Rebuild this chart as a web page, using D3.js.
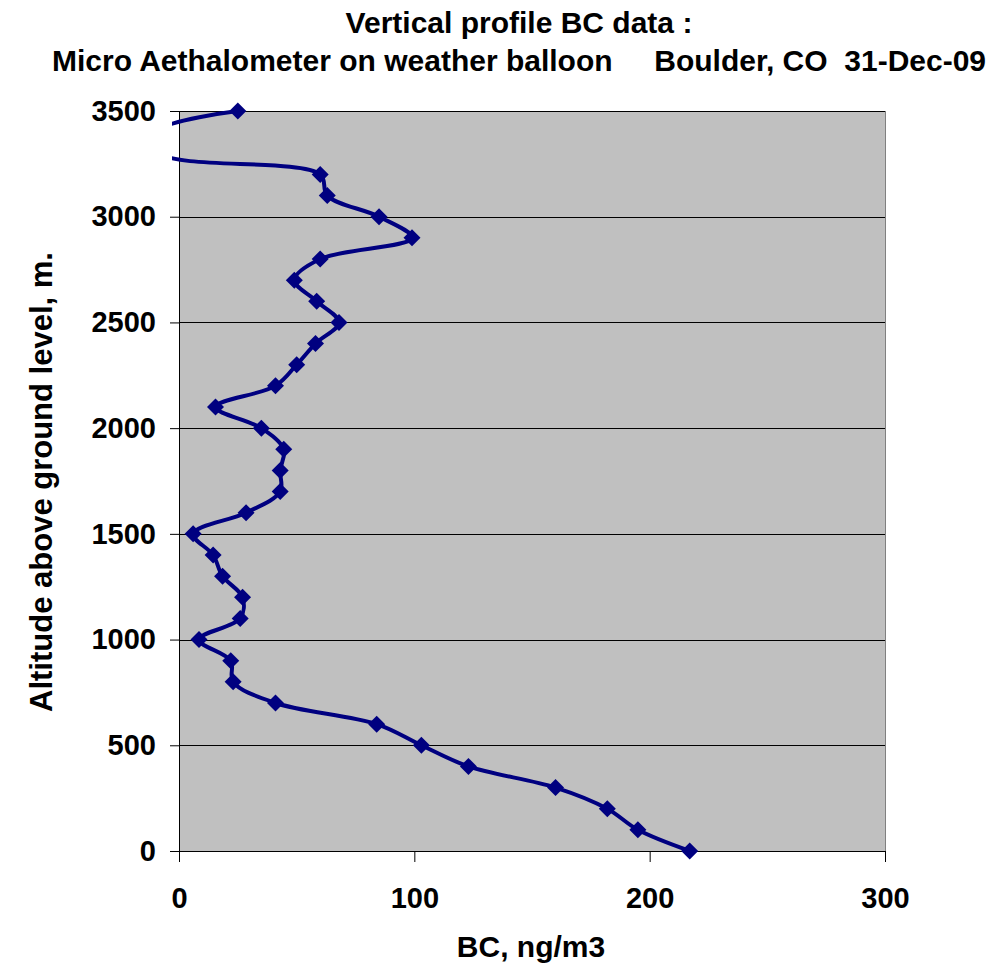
<!DOCTYPE html>
<html>
<head>
<meta charset="utf-8">
<script src="https://cdn.jsdelivr.net/npm/d3@7"></script>
<style>
body { margin: 0; background: #fff; }
text { font-family: "Liberation Sans", Arial, sans-serif; font-weight: bold; fill: #000; }
</style>
</head>
<body>
<svg id="chart" width="999" height="969"></svg>
<script>
// altitude above ground (m) and BC (ng/m3)
var altitude = [0, 100, 200, 300, 400, 500, 600, 700, 800, 900, 1000, 1100, 1200, 1300, 1400, 1500,
  1600, 1700, 1800, 1900, 2000, 2100, 2200, 2300, 2400, 2500, 2600, 2700, 2800, 2900, 3000,
  3100, 3200, 3300, 3400, 3500]
var bc = [217, 195, 182, 160, 123, 103, 84, 41, 23, 22, 8.5, 26, 27, 18.5, 14.5, 6,
  28.5, 43, 43, 44.5, 35, 15.5, 41, 50, 58, 68, 58.5, 49, 60, 99, 85,
  63, 60, -8, -10, 25]
var xTicks = [0, 100, 200, 300]
var yTicks = [0, 500, 1000, 1500, 2000, 2500, 3000, 3500]

var svg = d3.select('#chart')
var pL = 179, pR = 885, pT = 111, pB = 851

var x = d3.scaleLinear().domain([0, 300]).range([pL, pR])
var y = d3.scaleLinear().domain([0, 3500]).range([pB, pT])

svg.append('rect')
  .attr('x', pL).attr('y', pT)
  .attr('width', pR - pL).attr('height', pB - pT)
  .attr('fill', '#c0c0c0')

// grid
svg.append('g').selectAll('line')
  .data(yTicks.slice(1))
  .enter().append('line')
  .attr('x1', pL).attr('x2', pR)
  .attr('y1', function (d) { return Math.round(y(d)) + 0.5 }).attr('y2', function (d) { return Math.round(y(d)) + 0.5 })
  .attr('stroke', '#000').attr('stroke-width', 1)

svg.append('line').attr('x1', pR + 0.5).attr('x2', pR + 0.5).attr('y1', pT).attr('y2', pB)
  .attr('stroke', '#808080').attr('stroke-width', 1)

// axes
var gx = svg.append('g').attr('transform', 'translate(0,' + pB + ')')
  .call(d3.axisBottom(x).tickValues(xTicks).tickSize(11).tickPadding(25).tickFormat(d3.format('d')))
var gy = svg.append('g').attr('transform', 'translate(' + pL + ',0)')
  .call(d3.axisLeft(y).tickValues(yTicks).tickSize(9).tickPadding(14).tickFormat(d3.format('d')))
;[gx, gy].forEach(function (g) {
  g.select('.domain').attr('stroke', '#000').attr('stroke-width', 1)
  g.selectAll('.tick line').attr('stroke', '#000')
  g.selectAll('text').style('font-size', '29px').attr('fill', '#000')
    .style('font-family', '"Liberation Sans", Arial, sans-serif').style('font-weight', 'bold')
})
gx.select('.domain').attr('d', 'M' + pL + ',0.5H' + pR)
gy.select('.domain').attr('d', 'M0.5,' + pT + 'V' + pB)

// series, clipped just past the left edge
svg.append('clipPath').attr('id', 'clip')
  .append('rect').attr('x', 172).attr('y', 0).attr('width', 999).attr('height', 969)

var pts = altitude.map(function (a, i) { return [bc[i], a] })
var line = d3.line()
  .x(function (d) { return x(d[0]) })
  .y(function (d) { return y(d[1]) })
  .curve(d3.curveCatmullRom.alpha(0.5))

var series = svg.append('g').attr('clip-path', 'url(#clip)')
series.append('path')
  .datum(pts)
  .attr('d', line)
  .attr('fill', 'none')
  .attr('stroke', '#000080')
  .attr('stroke-width', 4)

series.selectAll('path.m')
  .data(pts.filter(function (d) { return d[0] >= 0 }))
  .enter().append('path')
  .attr('class', 'm')
  .attr('d', 'M0,-8.5L8.5,0L0,8.5L-8.5,0Z')
  .attr('transform', function (d) { return 'translate(' + x(d[0]) + ',' + y(d[1]) + ')' })
  .attr('fill', '#000080')

// titles
svg.append('text').attr('x', 519).attr('y', 33).attr('text-anchor', 'middle')
  .style('font-size', '30px').text('Vertical profile BC data :')
svg.append('text').attr('x', 519).attr('y', 71).attr('text-anchor', 'middle')
  .style('font-size', '30px').attr('xml:space', 'preserve')
  .text('Micro Aethalometer on weather balloon     Boulder, CO  31-Dec-09')
svg.append('text').attr('x', 531).attr('y', 957).attr('text-anchor', 'middle')
  .style('font-size', '30px').text('BC, ng/m3')
svg.append('text').attr('transform', 'translate(52,482) rotate(-90)').attr('text-anchor', 'middle')
  .style('font-size', '31px').text('Altitude above ground level, m.')
</script>
</body>
</html>
